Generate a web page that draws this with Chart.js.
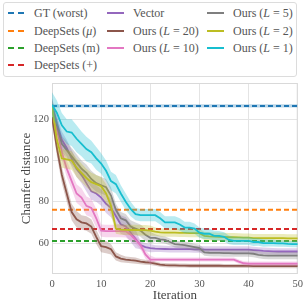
<!DOCTYPE html>
<html>
<head>
<meta charset="utf-8">
<script src="https://cdn.jsdelivr.net/npm/chart.js@4.4.1/dist/chart.umd.min.js"></script>
<style>
  html, body { margin: 0; padding: 0; background: #fff; }
  #wrap { position: relative; width: 307px; height: 305px; }
  #legend {
    position: absolute; left: 3px; top: 2px; width: 292px; height: 73px;
    border: 1px solid #dcdcdc; border-radius: 3px; background: #fff;
    font-family: "Liberation Serif", "DejaVu Serif", serif; font-size: 12px; color: #555;
  }
  .item { position: absolute; height: 14px; line-height: 14px; white-space: nowrap; }
  .item .h { position: absolute; left: 0; top: 6px; width: 17px; height: 2px; }
  .item .t { position: absolute; left: 26px; top: 0; }
</style>
</head>
<body>
<div id="wrap">
  <canvas id="grafica" width="307" height="305"></canvas>
  <div id="legend"></div>
</div>
<script>
// Datos
const iterations = [0,1,2,3,4,5,6,7,8,9,10,11,12,13,14,15,16,17,18,19,20,21,22,23,24,25,26,27,28,29,30,31,32,33,34,35,36,37,38,39,40,41,42,43,44,45,46,47,48,49,50];
const xTicks = [0, 10, 20, 30, 40, 50];
const yTicks = [60, 80, 100, 120];

// lineas horizontales (GT y DeepSets)
const baselineLabels = ['GT (worst)', 'DeepSets (<i>μ</i>)', 'DeepSets (m)', 'DeepSets (+)'];
const baselineValues = [126.4, 76.1, 61.0, 66.8];
const baselineSpread = [0.8, 0, 0, 0];

const seriesLabels = ['Vector', 'Ours (<i>L</i> = 20)', 'Ours (<i>L</i> = 10)', 'Ours (<i>L</i> = 5)', 'Ours (<i>L</i> = 2)', 'Ours (<i>L</i> = 1)'];

const vector = [127,118,110,106,101,96,93,89,85,84,82,79,77,73,69,68,65,62,59,58,57.5,57.3,57.2,57.1,57,57,57,57,57,56.9,56.9,56.8,56.8,56.8,56.8,56.8,56.8,56.8,56.8,56.8,56.8,56.6,56.4,56.2,56.1,56,55.9,55.9,55.9,55.9,55.9];
const oursL20 = [121,106,93,84,75,71.5,70,69.5,68,63,58.5,58,57,53.5,52.5,52,51.7,51.5,51,50.7,50.5,50,49.5,49.3,49.2,49.2,49.1,49.1,49,49,49,49,49,49,49,48.9,48.9,48.9,48.9,48.9,48.9,48.8,48.8,48.8,48.8,48.8,48.8,48.8,48.8,48.8,48.8];
const oursL10 = [126,115,104,96,90,84,82,78,77,72,66,65.8,65.8,65.8,65.8,65.7,64,61.5,59,54.5,52,52,52,52,52,52,52,52,52,52,52,52,52,52,52,52,52,52,51,50.2,50,50,50,50,50,50,50,50,50,50,50];
const oursL5 = [127,117,108,105,102,99,96,94,91,89,88,87,83,76,72,71,68,67,66,64,62.5,62.5,61.8,61.5,60.5,59.5,59.2,59,58.5,58,57.5,55.5,55.3,55.2,55.2,55.1,55.1,55,55,55,55,54.8,54.3,54,53.9,53.9,53.9,53.9,53.9,53.9,53.9];
const oursL2 = [126,110,101,100.5,100,96.5,94,91.5,89.5,88.5,87.5,84,78,67,66.5,66.4,66.3,66.3,66.2,66.2,66,65.5,65.2,65,65,65,64.9,64.9,64.8,64.8,64.8,63.5,63.2,63.1,63,63,62.8,62.8,62.7,62.6,62.6,62.4,62.4,62.4,62.4,62.4,62.4,62.4,62.3,62.3,62.3];
const oursL1 = [127,123,117,114,113.5,110.5,108,105.5,104,101,98.5,95,90,88.5,84,80,76.5,74,73.5,73.5,73.5,73.5,72,70,70,70,69,67.5,67.5,67,65,64.5,64.5,63.5,63.5,63,61.5,61,61,61,61,60.5,60.5,60,60,60,59.8,59.8,59.6,59.5,59.5];

// semi-ancho de las bandas sombreadas
const vectorSpread = [3,4,4,4,4,4,4,4,4,4,4,4.5,4.5,4.5,4.5,4.5,4.5,4.5,2,2,2,1.6,1.6,1.6,1.6,1.6,1.6,1.6,1.6,1.6,1.6,1.6,1.6,1.6,1.6,1.6,1.6,1.6,1.6,1.6,1.6,1.6,1.6,1.6,1.6,1.6,1.6,1.6,1.6,1.6,1.6];
const oursL20Spread = [2.5,4,4,4,4,4,3.5,3.5,3.5,3.5,3,3,2.5,2,1.8,1.5,1.5,1.5,1.3,1.2,1.2,1,1,1,1,1,1,1,1,1,1,1,1,1,1,1,1,1,1,1,1,1,1,1,1,1,1,1,1,1,1];
const oursL10Spread = [3,4,4,4,4,4.5,4.5,4.5,4.5,4.5,3,3,3,3,3,3,3,2,2,2,2,1,1,1,1,1,1,1,1,1,1,1,1,1,1,1,1,1,1,1,1,1,1,1,1,1,1,1,1,1,1];
const oursL5Spread = [3,4,4,4,4,4,4,4,4,4,4,4,4,3,3,3,3,3,3,3,3,1.7,1.7,1.7,1.7,1.7,1.7,1.7,1.7,1.7,1.7,1.7,1.7,1.7,1.7,1.7,1.7,1.7,1.7,1.7,1.7,1.7,1.7,1.7,1.7,1.7,1.7,1.7,1.7,1.7,1.7];
const oursL2Spread = [3,4.5,4.5,4.5,4.5,4.5,4.5,4.5,4.5,4.5,4.5,4.5,4.5,2.5,2.5,2.5,2.5,2.5,2.5,2.5,2.5,2,2,2,2,2,2,2,2,2,2,2,2,2,2,2,2,2,2,2,2,2,2,2,2,2,2,2,2,2,2];
const oursL1Spread = [6,6,6,6,6.5,6.5,6,6,5.5,5.5,5,5,4.5,4.5,4,4,3.5,3,3,3,3,3,3,3,3,3,3,2.8,2.8,2.5,2.5,2.5,2.5,2.4,2.3,2.2,2.1,2,2,2,2,1.9,1.8,1.8,1.7,1.7,1.6,1.6,1.5,1.5,1.5];

const baselineColors = ['31,119,180', '255,127,14', '44,160,44', '214,39,40'];
const seriesColors = ['148,103,189', '140,86,75', '227,119,194', '127,127,127', '188,189,34', '23,190,207'];
const seriesData = [vector, oursL20, oursL10, oursL5, oursL2, oursL1];
const seriesSpread = [vectorSpread, oursL20Spread, oursL10Spread, oursL5Spread, oursL2Spread, oursL1Spread];

const datasets = [];
let order = 1000;

function addBand(xs, upper, lower, color) {
  datasets.push({ data: xs.map((x, i) => ({ x: x, y: upper[i] })), borderWidth: 0, pointRadius: 0, fill: '+1', backgroundColor: 'rgba(' + color + ',0.3)', order: order-- });
  datasets.push({ data: xs.map((x, i) => ({ x: x, y: lower[i] })), borderWidth: 0, pointRadius: 0, fill: false, order: order-- });
}

// lineas discontinuas
baselineValues.forEach((v, k) => {
  const xs = [xTicks[0], xTicks[xTicks.length - 1]];
  if (baselineSpread[k] > 0) {
    addBand(xs, [v + baselineSpread[k], v + baselineSpread[k]], [v - baselineSpread[k], v - baselineSpread[k]], baselineColors[k]);
  }
  datasets.push({ data: xs.map(x => ({ x: x, y: v })), borderColor: 'rgb(' + baselineColors[k] + ')', borderWidth: 2, borderDash: [5, 3], pointRadius: 0, fill: false, order: order-- });
});

// series con bandas
seriesData.forEach((serie, k) => {
  const sp = seriesSpread[k];
  addBand(iterations, serie.map((v, i) => v + sp[i]), serie.map((v, i) => v - sp[i]), seriesColors[k]);
  datasets.push({ data: iterations.map((x, i) => ({ x: x, y: serie[i] })), borderColor: 'rgb(' + seriesColors[k] + ')', borderWidth: 1.8, pointRadius: 0, fill: false, order: order-- });
});

// marco del area del grafico
const marco = {
  id: 'marco',
  beforeDatasetsDraw(chart) {
    const a = chart.chartArea, ctx = chart.ctx;
    ctx.save();
    ctx.strokeStyle = '#d9d9d9';
    ctx.lineWidth = 1;
    ctx.strokeRect(a.left + 0.5, a.top + 0.5, a.right - a.left - 1, a.bottom - a.top - 1);
    ctx.restore();
  }
};

const fuente = '"Liberation Serif", "DejaVu Serif", serif';

new Chart(document.getElementById('grafica'), {
  type: 'line',
  data: { datasets: datasets },
  plugins: [marco],
  options: {
    responsive: false,
    animation: false,
    layout: { padding: { left: 15, right: 8, top: 83, bottom: 0 } },
    plugins: { legend: { display: false }, tooltip: { enabled: false } },
    scales: {
      x: {
        type: 'linear', min: 0, max: 50,
        afterBuildTicks: s => { s.ticks = xTicks.map(v => ({ value: v })); },
        afterFit: s => { s.height = 31; },
        grid: { color: '#e4e4e4', drawTicks: false },
        border: { display: false },
        ticks: { color: '#555', padding: 4, font: { family: fuente, size: 10.5 } },
        title: { display: true, text: 'Iteration', color: '#444', padding: { top: 0, bottom: 2 }, font: { family: fuente, size: 13 } }
      },
      y: {
        min: 45, max: 137.5,
        afterBuildTicks: s => { s.ticks = yTicks.map(v => ({ value: v })); },
        afterFit: s => { s.width = 37; },
        grid: { color: '#e4e4e4', drawTicks: false },
        border: { display: false },
        ticks: { color: '#555', padding: 3, font: { family: fuente, size: 10.5 } },
        title: { display: true, text: 'Chamfer distance', color: '#444', padding: { top: 4, bottom: 0 }, font: { family: fuente, size: 13 } }
      }
    }
  }
});

// leyenda en tres columnas
const legendItems = [];
baselineLabels.forEach((t, k) => legendItems.push({ text: t, color: baselineColors[k], dashed: true, col: 0, row: k }));
seriesLabels.forEach((t, k) => legendItems.push({ text: t, color: seriesColors[k], dashed: false, col: k < 3 ? 1 : 2, row: k % 3 }));

const colX = [4, 103, 203];
const legend = document.getElementById('legend');
legendItems.forEach(it => {
  const d = document.createElement('div');
  d.className = 'item';
  d.style.left = colX[it.col] + 'px';
  d.style.top = (3.3 + it.row * 17.2) + 'px';
  const c = 'rgb(' + it.color + ')';
  const bg = it.dashed ? 'repeating-linear-gradient(to right,' + c + ' 0 6px, transparent 6px 10px)' : c;
  d.innerHTML = '<span class="h" style="background:' + bg + '"></span><span class="t">' + it.text + '</span>';
  legend.appendChild(d);
});
</script>
</body>
</html>
